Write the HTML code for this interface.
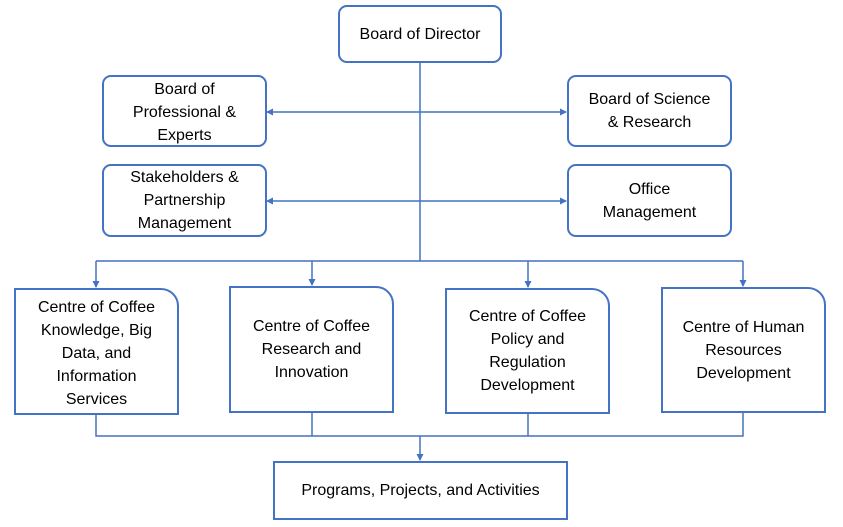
<!DOCTYPE html>
<html><head><style>
body{margin:0;width:843px;height:527px;background:#fff;position:relative;overflow:hidden;font-family:"Liberation Sans",sans-serif;font-size:16px;color:#000}
.b{position:absolute;box-sizing:border-box;border:2px solid #4472C4;display:flex;align-items:center;justify-content:center;text-align:center;line-height:23px;background:#fff}
.r{border-radius:9px}
.c{border-top-right-radius:18px}
svg{position:absolute;left:0;top:0}
</style></head><body>
<svg width="843" height="527">
<defs><marker id="a" markerWidth="7" markerHeight="7" refX="6" refY="3.5" orient="auto-start-reverse" markerUnits="userSpaceOnUse"><path d="M0,0 L7,3.5 L0,7 z" fill="#4472C4"/></marker></defs>
<g stroke="#4472C4" stroke-width="1.5" fill="none">
<line x1="420" y1="62" x2="420" y2="261"/>
<line x1="267" y1="112" x2="566" y2="112" marker-start="url(#a)" marker-end="url(#a)"/>
<line x1="267" y1="201" x2="566" y2="201" marker-start="url(#a)" marker-end="url(#a)"/>
<line x1="96" y1="261" x2="743" y2="261"/>
<line x1="96" y1="261" x2="96" y2="287" marker-end="url(#a)"/>
<line x1="312" y1="261" x2="312" y2="285" marker-end="url(#a)"/>
<line x1="528" y1="261" x2="528" y2="287" marker-end="url(#a)"/>
<line x1="743" y1="261" x2="743" y2="286" marker-end="url(#a)"/>
<polyline points="96,414 96,436 743,436 743,412"/>
<line x1="312" y1="412" x2="312" y2="436"/>
<line x1="528" y1="413" x2="528" y2="436"/>
<line x1="420" y1="436" x2="420" y2="460" marker-end="url(#a)"/>
</g></svg>
<div class="b r" style="left:338px;top:5px;width:164px;height:58px">Board of Director</div>
<div class="b r" style="left:102px;top:75px;width:165px;height:72px;padding-top:3px">Board of<br>Professional &amp;<br>Experts</div>
<div class="b r" style="left:102px;top:164px;width:165px;height:73px">Stakeholders &amp;<br>Partnership<br>Management</div>
<div class="b r" style="left:567px;top:75px;width:165px;height:72px">Board of Science<br>&amp; Research</div>
<div class="b r" style="left:567px;top:164px;width:165px;height:73px">Office<br>Management</div>
<div class="b c" style="left:14px;top:288px;width:165px;height:127px;padding-top:3px">Centre of Coffee<br>Knowledge, Big<br>Data, and<br>Information<br>Services</div>
<div class="b c" style="left:229px;top:286px;width:165px;height:127px">Centre of Coffee<br>Research and<br>Innovation</div>
<div class="b c" style="left:445px;top:288px;width:165px;height:126px">Centre of Coffee<br>Policy and<br>Regulation<br>Development</div>
<div class="b c" style="left:661px;top:287px;width:165px;height:126px">Centre of Human<br>Resources<br>Development</div>
<div class="b" style="left:273px;top:461px;width:295px;height:59px">Programs, Projects, and Activities</div>
</body></html>
